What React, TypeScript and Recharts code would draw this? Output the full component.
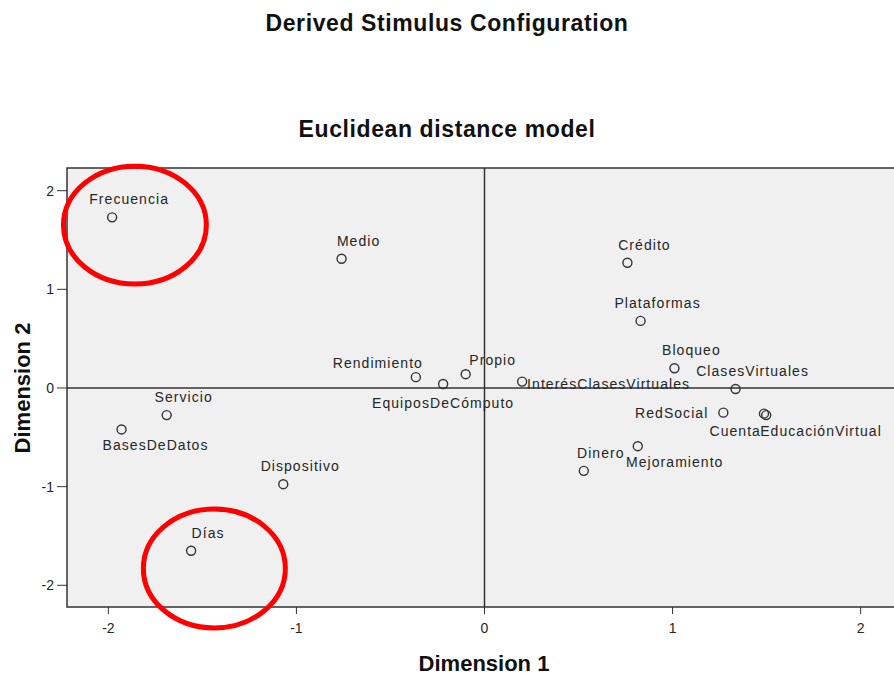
import React from 'react';
import { ScatterChart, Scatter, XAxis, YAxis, ReferenceLine, ReferenceArea, CartesianGrid } from 'recharts';

const stimuli = ['Frecuencia','Medio','Crédito','Plataformas','Bloqueo','ClasesVirtuales','RedSocial','Cuenta','EducaciónVirtual','Mejoramiento','Dinero','InterésClasesVirtuales','Propio','Rendimiento','EquiposDeCómputo','Servicio','BasesDeDatos','Dispositivo','Días'];
const dimension1 = [-1.98,-0.76,0.76,0.83,1.01,1.335,1.27,1.486,1.498,0.815,0.528,0.20,-0.10,-0.365,-0.22,-1.69,-1.93,-1.07,-1.56];
const dimension2 = [1.73,1.31,1.27,0.68,0.20,-0.01,-0.25,-0.26,-0.275,-0.59,-0.84,0.065,0.14,0.11,0.04,-0.275,-0.42,-0.975,-1.65];
const ticks = [-2,-1,0,1,2];
const xDomain = [-2.22, 2.22];
const yDomain = [-2.22, 2.23];
// highlight ellipses (bounding boxes in data units)
const highlightX1 = [-2.239, -1.814];
const highlightX2 = [-1.479, -1.059];
const highlightY1 = [1.054, -2.432];
const highlightY2 = [2.249, -1.226];

const data = stimuli.map((name, i) => ({ name, x: dimension1[i], y: dimension2[i] }));

// label placement (layout only)
const labelPlace: Record<string, { dx: number; dy: number; anchor: string }> = {
  Rendimiento: { dx: -38, dy: -14, anchor: 'middle' },
  Propio: { dx: 27, dy: -14, anchor: 'middle' },
  'EquiposDeCómputo': { dx: 0, dy: 19, anchor: 'middle' },
  'InterésClasesVirtuales': { dx: 5, dy: 2, anchor: 'start' },
  BasesDeDatos: { dx: 34, dy: 16, anchor: 'middle' },
  RedSocial: { dx: -15, dy: 0, anchor: 'end' },
  Cuenta: { dx: -3, dy: 17, anchor: 'end' },
  'EducaciónVirtual': { dx: -6, dy: 16, anchor: 'start' },
  Mejoramiento: { dx: 37, dy: 16, anchor: 'middle' },
};
const defaultPlace = { dx: 17, dy: -18, anchor: 'middle' };

const FONT = '"Liberation Sans", Arial, sans-serif';
const INK = '#262626';

const PointShape = (props: any) => {
  const { cx, cy, payload } = props;
  if (cx == null || cy == null) return null;
  const p = labelPlace[payload.name] || defaultPlace;
  return (
    <g>
      <circle cx={cx} cy={cy} r={4.5} fill="none" stroke="#333" strokeWidth={1.4} />
      <text x={cx + p.dx} y={cy + p.dy + 5} textAnchor={p.anchor as any} fontSize={14} letterSpacing={1.05} fontFamily={FONT} fill={INK}>
        {payload.name}
      </text>
    </g>
  );
};

const EllipseShape = (props: any) => {
  const { x, y, width, height } = props;
  if (x == null) return null;
  return <ellipse cx={x + width / 2} cy={y + height / 2} rx={Math.abs(width) / 2} ry={Math.abs(height) / 2} fill="none" stroke="#ff0000" strokeWidth={5} />;
};

const titleStyle: React.CSSProperties = { position: 'absolute', textAlign: 'center', fontWeight: 'bold', color: '#111', whiteSpace: 'nowrap' };

export default function App() {
  return (
    <div style={{ width: 894, height: 675, overflow: 'hidden', position: 'relative', background: '#fff', fontFamily: FONT }}>
      <style>{'body{margin:0}'}</style>
      <div style={{ position: 'absolute', left: 0, top: 0 }}>
        <ScatterChart width={920} height={675} margin={{ top: 168, right: 18, bottom: 0, left: 0 }}>
          <CartesianGrid horizontal={false} vertical={false} fill="#f0f0f0" />
          <XAxis type="number" dataKey="x" domain={xDomain} ticks={ticks} allowDataOverflow height={68}
            axisLine={false} tickLine={{ stroke: '#333' }} tickSize={7} tickMargin={9}
            tick={{ fontSize: 14, fill: INK, fontFamily: FONT }} />
          <YAxis type="number" dataKey="y" domain={yDomain} ticks={ticks} allowDataOverflow width={67}
            axisLine={false} tickLine={{ stroke: '#333' }} tickSize={10} tickMargin={3}
            tick={{ fontSize: 14, fill: INK, fontFamily: FONT }} />
          <ReferenceArea x1={xDomain[0]} x2={xDomain[1]} y1={yDomain[0]} y2={yDomain[1]} fill="none" stroke="#333" strokeWidth={1.5} fillOpacity={0} ifOverflow="visible" />
          <ReferenceLine x={0} stroke="#333" strokeWidth={1.5} />
          <ReferenceLine y={0} stroke="#333" strokeWidth={1.5} />
          <Scatter data={data} shape={PointShape} isAnimationActive={false} />
          {highlightX1.map((x1, i) => (
            <ReferenceArea key={i} x1={x1} x2={highlightX2[i]} y1={highlightY1[i]} y2={highlightY2[i]} ifOverflow="visible" shape={EllipseShape} />
          ))}
        </ScatterChart>
      </div>
      <div style={{ ...titleStyle, left: 0, width: 894, top: 12, fontSize: 23, lineHeight: '23px', letterSpacing: 0.6 }}>Derived Stimulus Configuration</div>
      <div style={{ ...titleStyle, left: 0, width: 894, top: 118, fontSize: 23, lineHeight: '23px', letterSpacing: 0.6 }}>Euclidean distance model</div>
      <div style={{ ...titleStyle, left: 384, width: 200, top: 653, fontSize: 22, lineHeight: '22px' }}>Dimension 1</div>
      <div style={{ ...titleStyle, left: 22.5 - 100, width: 200, top: 388 - 11, fontSize: 22, lineHeight: '22px', transform: 'rotate(-90deg)' }}>Dimension 2</div>
    </div>
  );
}
